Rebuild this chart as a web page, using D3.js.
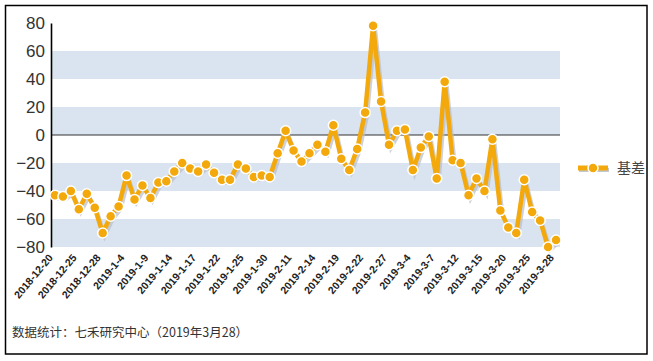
<!DOCTYPE html>
<html>
<head>
<meta charset="utf-8">
<script src="https://cdn.jsdelivr.net/npm/d3@7"></script>
<style>
  body { margin: 0; background: #fff; }
  svg text { font-family: "Liberation Sans", Arial, sans-serif; }
</style>
</head>
<body>
<div id="chart"></div>
<script>
// trading days
const dates = [
  "2018-12-20","2018-12-21","2018-12-24","2018-12-25","2018-12-26","2018-12-27","2018-12-28",
  "2019-1-2","2019-1-3","2019-1-4","2019-1-7","2019-1-8","2019-1-9","2019-1-10","2019-1-11",
  "2019-1-14","2019-1-15","2019-1-16","2019-1-17","2019-1-18","2019-1-21","2019-1-22","2019-1-23",
  "2019-1-24","2019-1-25","2019-1-28","2019-1-29","2019-1-30","2019-1-31","2019-2-1",
  "2019-2-11","2019-2-12","2019-2-13","2019-2-14","2019-2-15","2019-2-18","2019-2-19","2019-2-20",
  "2019-2-21","2019-2-22","2019-2-25","2019-2-26","2019-2-27","2019-2-28","2019-3-1",
  "2019-3-4","2019-3-5","2019-3-6","2019-3-7","2019-3-8","2019-3-11","2019-3-12","2019-3-13",
  "2019-3-14","2019-3-15","2019-3-18","2019-3-19","2019-3-20","2019-3-21","2019-3-22",
  "2019-3-25","2019-3-26","2019-3-27","2019-3-28"
];
// 基差
const basis = [
  -43,-44,-40,-53,-42,-52,-70,-58,-51,-29,
  -46,-36,-45,-34,-33,-26,-20,-24,-26,-21,
  -27,-32,-32,-21,-24,-30,-29,-30,-13,3,
  -11,-19,-13,-7,-12,7,-17,-25,-10,16,
  78,24,-7,3,4,-25,-9,-1,-31,38,
  -18,-20,-43,-31,-40,-3,-54,-66,-70,-32,
  -55,-61,-80,-75
];
const xTickLabels = [
  "2018-12-20","2018-12-25","2018-12-28","2019-1-4","2019-1-9","2019-1-14","2019-1-17",
  "2019-1-22","2019-1-25","2019-1-30","2019-2-11","2019-2-14","2019-2-19","2019-2-22",
  "2019-2-27","2019-3-4","2019-3-7","2019-3-12","2019-3-15","2019-3-20","2019-3-25","2019-3-28"
];
const yTicks = [80, 60, 40, 20, 0, -20, -40, -60, -80];
const bands = [[40, 60], [0, 20], [-40, -20], [-80, -60]];
const seriesName = "基差";
const footnote = "数据统计：七禾研究中心（2019年3月28）";

const W = 653, H = 361;
const orange = "#f3a80b";

const svg = d3.select("#chart").append("svg")
  .attr("width", W)
  .attr("height", H);

// outer frame
svg.append("rect")
  .attr("x", 5.5).attr("y", 5.5)
  .attr("width", 641.5).attr("height", 348.5)
  .attr("fill", "none")
  .attr("stroke", "#000")
  .attr("stroke-width", 1.5);

const plot = {left: 51, right: 560, top: 23, bottom: 247};

const x = d3.scalePoint()
  .domain(dates)
  .range([plot.left, plot.right])
  .padding(0.5);

const y = d3.scaleLinear()
  .domain([-80, 80])
  .range([plot.bottom, plot.top]);

// alternating bands
svg.append("g")
  .selectAll("rect")
  .data(bands)
  .enter().append("rect")
  .attr("x", plot.left)
  .attr("width", plot.right - plot.left)
  .attr("y", d => y(d[1]))
  .attr("height", d => y(d[0]) - y(d[1]))
  .attr("fill", "#d9e4f0");

// zero line
svg.append("line")
  .attr("x1", plot.left).attr("x2", plot.right)
  .attr("y1", y(0)).attr("y2", y(0))
  .attr("stroke", "#333")
  .attr("stroke-width", 1.2);

// y axis
const yAxis = svg.append("g")
  .attr("transform", "translate(" + plot.left + ",0)")
  .call(d3.axisLeft(y).tickValues(yTicks).tickSize(0).tickPadding(6));
yAxis.select(".domain").attr("stroke", "#000").attr("stroke-width", 1.6);
yAxis.selectAll("text")
  .attr("font-size", 17)
  .attr("fill", "#333")
  .style("font-family", "'Liberation Sans', Arial, sans-serif");

// x axis labels
const xAxis = svg.append("g")
  .attr("transform", "translate(0," + plot.bottom + ")")
  .call(d3.axisBottom(x).tickValues(xTickLabels).tickSize(0));
xAxis.select(".domain").remove();
xAxis.selectAll("text")
  .attr("font-size", 10.5)
  .attr("font-weight", "bold")
  .attr("fill", "#222")
  .attr("text-anchor", "end")
  .attr("dy", 0)
  .attr("y", 0)
  .attr("transform", "translate(-2,11) rotate(-50)")
  .style("font-family", "'Liberation Sans', Arial, sans-serif");

// line + shadow
const line = d3.line()
  .x((d, i) => x(dates[i]))
  .y(d => y(d));

svg.append("path")
  .datum(basis)
  .attr("d", line)
  .attr("transform", "translate(2,3)")
  .attr("fill", "none")
  .attr("stroke", "#b9bec8")
  .attr("stroke-opacity", 0.7)
  .attr("stroke-width", 4);

svg.append("path")
  .datum(basis)
  .attr("d", line)
  .attr("fill", "none")
  .attr("stroke", orange)
  .attr("stroke-width", 4.5)
  .attr("stroke-linejoin", "round");

svg.append("g")
  .selectAll("circle")
  .data(basis)
  .enter().append("circle")
  .attr("cx", (d, i) => x(dates[i]))
  .attr("cy", d => y(d))
  .attr("r", 5)
  .attr("fill", orange)
  .attr("stroke", "#fff")
  .attr("stroke-width", 1.5);

// legend
const lg = svg.append("g").attr("transform", "translate(578,168)");
lg.append("line")
  .attr("x1", 1).attr("x2", 31).attr("y1", 2).attr("y2", 2)
  .attr("stroke", "#c3c7cf").attr("stroke-width", 4);
lg.append("line")
  .attr("x1", 0).attr("x2", 30).attr("y1", 0).attr("y2", 0)
  .attr("stroke", orange).attr("stroke-width", 5);
lg.append("circle")
  .attr("cx", 15).attr("cy", 0).attr("r", 5)
  .attr("fill", orange).attr("stroke", "#fff").attr("stroke-width", 1.5);
lg.append("text")
  .attr("x", 39).attr("y", 5)
  .attr("font-size", 14)
  .attr("fill", "#444")
  .style("font-family", "'Noto Sans CJK SC', sans-serif")
  .text(seriesName);

// footnote
svg.append("text")
  .attr("x", 12).attr("y", 337)
  .attr("font-size", 12.5)
  .attr("fill", "#333")
  .style("font-family", "'Noto Sans CJK SC', sans-serif")
  .text(footnote);
</script>
</body>
</html>
